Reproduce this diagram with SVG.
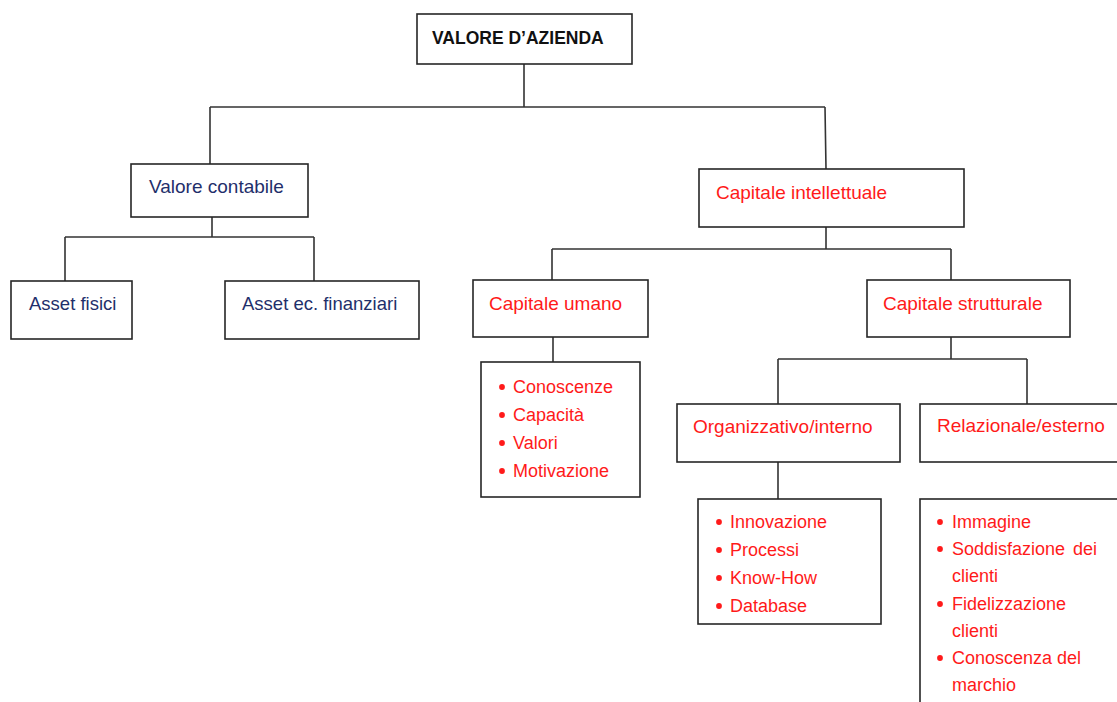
<svg xmlns="http://www.w3.org/2000/svg" width="1117" height="702" viewBox="0 0 1117 702">
<style>
  .box{fill:#fff;stroke:#262626;stroke-width:1.6}
  .conn path{fill:none;stroke:#333;stroke-width:1.6}
  text{font-family:"Liberation Sans",Arial,sans-serif}
  .h{font-size:19px}
  .navy{fill:#1f2f6b}
  .red{fill:#ff1a1a}
  .b{font-size:18px;fill:#ff1a1a}
  .dot{fill:#ff1a1a}
  .top{font-size:17.5px;font-weight:bold;fill:#111}
</style>
<rect width="1117" height="702" fill="#fff"/>
<g class="conn" id="connectors">
  <path d="M524,64 V107 M210,107 H825 M210,107 V164 M825,107 L826,169"/>
  <path d="M212,217 V237 M65,237 H314 M65,237 V281 M314,237 V281"/>
  <path d="M826,227 V249 M552,249 H951 M552,249 V280 M951,249 V280"/>
  <path d="M553,337 V362"/>
  <path d="M951,337 V359 M778,359 H1027 M778,359 V404 M1027,359 V404"/>
  <path d="M778,462 V499"/>
</g>
<g id="valore-azienda">
  <rect class="box" x="417" y="14" width="215" height="50"/>
  <text class="top" x="432" y="44">VALORE D’AZIENDA</text>
</g>
<g id="valore-contabile">
  <rect class="box" x="131" y="164" width="177" height="53"/>
  <text class="h navy" x="149" y="193">Valore contabile</text>
</g>
<g id="asset-fisici">
  <rect class="box" x="11" y="281" width="121" height="58"/>
  <text class="h navy" x="29" y="310" style="font-size:18.5px">Asset fisici</text>
</g>
<g id="asset-finanziari">
  <rect class="box" x="225" y="281" width="194" height="58"/>
  <text class="h navy" x="242" y="310" style="font-size:18.5px">Asset ec. finanziari</text>
</g>
<g id="capitale-intellettuale">
  <rect class="box" x="699" y="169" width="265" height="58"/>
  <text class="h red" x="716" y="199">Capitale intellettuale</text>
</g>
<g id="capitale-umano">
  <rect class="box" x="473" y="280" width="175" height="57"/>
  <text class="h red" x="489" y="310">Capitale umano</text>
</g>
<g id="capitale-strutturale">
  <rect class="box" x="867" y="280" width="203" height="57"/>
  <text class="h red" x="883" y="310">Capitale strutturale</text>
</g>
<g id="umano-lista">
  <rect class="box" x="481" y="362" width="159" height="135"/>
  <circle class="dot" cx="502" cy="387" r="2.9"/>
  <circle class="dot" cx="502" cy="415" r="2.9"/>
  <circle class="dot" cx="502" cy="443" r="2.9"/>
  <circle class="dot" cx="502" cy="471" r="2.9"/>
  <text class="b" x="513" y="393">Conoscenze</text>
  <text class="b" x="513" y="421">Capacità</text>
  <text class="b" x="513" y="449">Valori</text>
  <text class="b" x="513" y="477">Motivazione</text>
</g>
<g id="organizzativo">
  <rect class="box" x="677" y="404" width="223" height="58"/>
  <text class="h red" x="693" y="433">Organizzativo/interno</text>
</g>
<g id="relazionale">
  <rect class="box" x="920" y="404" width="220" height="58"/>
  <text class="h red" x="937" y="432">Relazionale/esterno</text>
</g>
<g id="organizzativo-lista">
  <rect class="box" x="698" y="499" width="183" height="125"/>
  <circle class="dot" cx="719" cy="522" r="2.9"/>
  <circle class="dot" cx="719" cy="550" r="2.9"/>
  <circle class="dot" cx="719" cy="578" r="2.9"/>
  <circle class="dot" cx="719" cy="606" r="2.9"/>
  <text class="b" x="730" y="528">Innovazione</text>
  <text class="b" x="730" y="556">Processi</text>
  <text class="b" x="730" y="584">Know-How</text>
  <text class="b" x="730" y="612">Database</text>
</g>
<g id="relazionale-lista">
  <rect class="box" x="920" y="499" width="220" height="230"/>
  <circle class="dot" cx="940" cy="522" r="2.9"/>
  <circle class="dot" cx="940" cy="549" r="2.9"/>
  <circle class="dot" cx="940" cy="604" r="2.9"/>
  <circle class="dot" cx="940" cy="658" r="2.9"/>
  <text class="b" x="952" y="528">Immagine</text>
  <text class="b" x="952" y="555">Soddisfazione <tspan x="1073">dei</tspan></text>
  <text class="b" x="952" y="582">clienti</text>
  <text class="b" x="952" y="610">Fidelizzazione</text>
  <text class="b" x="952" y="637">clienti</text>
  <text class="b" x="952" y="664">Conoscenza del</text>
  <text class="b" x="952" y="691">marchio</text>
</g>
</svg>
